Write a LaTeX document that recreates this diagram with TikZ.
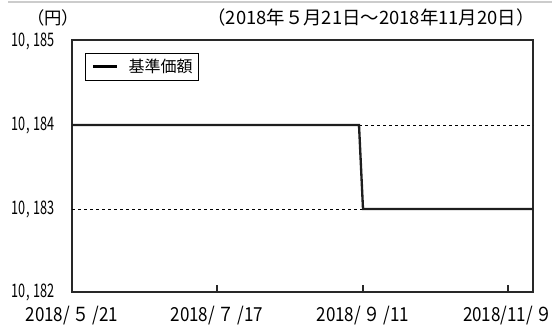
\documentclass[tikz,border=0pt]{standalone}
\usepackage{fontspec}
\setmainfont{Noto Sans CJK JP}
\tikzset{every picture/.style={line width=0.75pt}}
\newcommand{\ylab}[1]{\scalebox{0.68}[1]{#1}}
\newcommand{\xlab}[1]{\scalebox{0.88}[1]{#1}}

\begin{document}
\begin{tikzpicture}[x=0.75pt,y=0.75pt,yscale=-1,xscale=1]
	\useasboundingbox (0,0) rectangle (552,325);
	
	%Straight Lines [id:top rule]
	\draw [color={rgb, 255:red, 204; green, 204; blue, 204 }  ][line width=1.5]  (8,2) -- (552,2) ;
	%Shape: Rectangle [id:frame]
	\draw  [color={rgb, 255:red, 40; green, 40; blue, 40 }  ][line width=1]  (72,40) -- (533,40) -- (533,292) -- (72,292) -- cycle ;
	%Ticks [id:xticks]
	\draw  [color={rgb, 255:red, 40; green, 40; blue, 40 }  ][line width=1]  (217,292) -- (217,285) (363,292) -- (363,285) (508,292) -- (508,285) ;
	%Dashed Lines [id:grid]
	\draw  [dash pattern={on 2.5pt off 2pt}]  (72,209) -- (363,209) ;
	\draw  [dash pattern={on 2.5pt off 2pt}]  (359,125) -- (533,125) ;
	%Curve Lines [id:nav]
	\draw [color={rgb, 255:red, 30; green, 30; blue, 30 }  ][line width=1.75]  (72,125) -- (359,125) -- (363,209) -- (533,209) ;
	
	%Shape: Rectangle [id:legend]
	\draw  [line width=0.75]  (85,53) -- (198,53) -- (198,80) -- (85,80) -- cycle ;
	\draw [line width=1.75]  (93,66.5) -- (117,66.5) ;
	\draw (127,66.5) node [anchor=west][inner sep=0.75pt] [font=\fontsize{12}{14}\selectfont]  (leg) {基準価額};
	
	\draw (53,18) node [inner sep=0.75pt] [font=\fontsize{13}{15}\selectfont]  (unit) {（円）};
	\draw (536,18) node [anchor=east][inner sep=0.75pt] [font=\fontsize{13.8}{16}\selectfont]  (period) {（2018年５月21日～2018年11月20日）};
	
	\draw (56,41) node [anchor=east][inner sep=0.75pt] [font=\fontsize{14}{16}\selectfont]  (y185) {\ylab{10,\hspace{0.3em}185}};
	\draw (56,125) node [anchor=east][inner sep=0.75pt] [font=\fontsize{14}{16}\selectfont]  (y184) {\ylab{10,\hspace{0.3em}184}};
	\draw (56,209) node [anchor=east][inner sep=0.75pt] [font=\fontsize{14}{16}\selectfont]  (y183) {\ylab{10,\hspace{0.3em}183}};
	\draw (56,292) node [anchor=east][inner sep=0.75pt] [font=\fontsize{14}{16}\selectfont]  (y182) {\ylab{10,\hspace{0.3em}182}};
	
	\draw (72,316) node [inner sep=0.75pt] [font=\fontsize{14.5}{16}\selectfont]  (d521) {\xlab{2018/\,５\,/21}};
	\draw (217,316) node [inner sep=0.75pt] [font=\fontsize{14.5}{16}\selectfont]  (d717) {\xlab{2018/\,７\,/17}};
	\draw (363,316) node [inner sep=0.75pt] [font=\fontsize{14.5}{16}\selectfont]  (d911) {\xlab{2018/\,９\,/11}};
	\draw (508,316) node [inner sep=0.75pt] [font=\fontsize{14.5}{16}\selectfont]  (d1109) {\xlab{2018/11/\,９}};
	
\end{tikzpicture}
\end{document}
